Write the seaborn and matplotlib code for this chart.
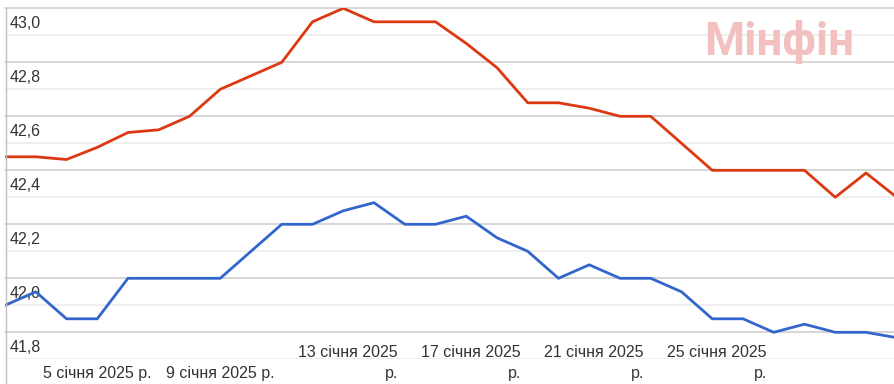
import numpy as np
import pandas as pd
import matplotlib
matplotlib.use("Agg")
import matplotlib.pyplot as plt
import seaborn as sns
from matplotlib.lines import Line2D

# ---- data (January 2025, days 2..31) ----
days = list(range(2, 32))
sell = [42.45, 42.45, 42.44, 42.485, 42.54, 42.55, 42.60, 42.70, 42.75, 42.80,
        42.95, 43.00, 42.95, 42.95, 42.95, 42.87, 42.78, 42.65, 42.65, 42.63,
        42.60, 42.60, 42.50, 42.40, 42.40, 42.40, 42.40, 42.30, 42.39, 42.30]
buy = [41.90, 41.95, 41.85, 41.85, 42.00, 42.00, 42.00, 42.00, 42.10, 42.20,
       42.20, 42.25, 42.28, 42.20, 42.20, 42.23, 42.15, 42.10, 42.00, 42.05,
       42.00, 42.00, 41.95, 41.85, 41.85, 41.80, 41.83, 41.80, 41.80, 41.78]
ytick_values = [43.0, 42.8, 42.6, 42.4, 42.2, 42.0, 41.8]
ytick_labels = ["43,0", "42,8", "42,6", "42,4", "42,2", "42,0", "41,8"]
yminor_values = [42.9, 42.7, 42.5, 42.3, 42.1, 41.9, 41.7]
xtick_days = [5, 9, 13, 17, 21, 25]
xtick_labels = ["5 січня 2025 р.", "9 січня 2025 р.", "13 січня 2025 р.",
                "17 січня 2025 р.", "21 січня 2025 р.", "25 січня 2025 р."]
watermark = "Мінфін"

df = pd.DataFrame({
    "day": days * 2,
    "value": sell + buy,
    "series": ["sell"] * len(days) + ["buy"] * len(days),
})

sns.set_style("white")
plt.rcParams["font.family"] = ["Liberation Sans", "DejaVu Sans"]

W, H = 894, 384
fig = plt.figure(figsize=(W / 100, H / 100), dpi=100)
x0, x1 = 5.0, 5.0 + 29 * 30.75
ytop, ybot = 8.3, 8.3 + 1.3 * 270
ax = fig.add_axes([x0 / W, 1 - ybot / H, (x1 - x0) / W, (ybot - ytop) / H])

sns.lineplot(data=df, x="day", y="value", hue="series",
             palette={"sell": "#dc3912", "buy": "#3366cc"},
             linewidth=2.0, legend=False, ax=ax, zorder=3)

ax.set_xlim(days[0], days[-1])
ax.set_ylim(41.7, 43.0)
ax.set_yticks(ytick_values)
ax.set_yticks(yminor_values, minor=True)
ax.set_xticks([])
ax.grid(which="major", axis="y", color="#cccccc", lw=1.1, clip_on=False)
ax.grid(which="minor", axis="y", color="#ebebeb", lw=1.1)
ax.set_axisbelow(True)
ax.tick_params(which="both", length=0, labelleft=False, labelbottom=False)
ax.set_xlabel("")
ax.set_ylabel("")
for s in ax.spines.values():
    s.set_visible(False)

# left axis line
fig.add_artist(Line2D([5.5 / W] * 2, [0, 1 - 8 / H], color="#c0c0c0", lw=1.0))

txt_color = "#333333"
fs = 11.5
for v, lab in zip(ytick_values, ytick_labels):
    ax.annotate(lab, xy=(0, v), xycoords=ax.get_yaxis_transform(),
                xytext=(5, -19.5), textcoords="offset pixels",
                ha="left", va="baseline", fontsize=fs, color=txt_color,
                zorder=1, annotation_clip=False)

for d, lab in zip(xtick_days, xtick_labels):
    if d < 10:
        ax.annotate(lab, xy=(d, 6), xycoords=("data", "figure pixels"),
                    ha="center", va="baseline", fontsize=fs, color=txt_color,
                    annotation_clip=False)
    else:
        first, last = lab.rsplit(" ", 1)
        ax.annotate(first, xy=(d, 27), xycoords=("data", "figure pixels"),
                    xytext=(5, 0), textcoords="offset pixels",
                    ha="center", va="baseline", fontsize=fs, color=txt_color,
                    annotation_clip=False)
        ax.annotate(last, xy=(d, 6), xycoords=("data", "figure pixels"),
                    xytext=(55, 0), textcoords="offset pixels",
                    ha="right", va="baseline", fontsize=fs, color=txt_color,
                    annotation_clip=False)

fig.text(704 / W, 1 - 55 / H, watermark, fontsize=33, fontweight="bold",
         family=["Roboto", "Liberation Sans"],
         color="#f3c0c0", ha="left", va="baseline")

fig.savefig("out.png", dpi=100)
